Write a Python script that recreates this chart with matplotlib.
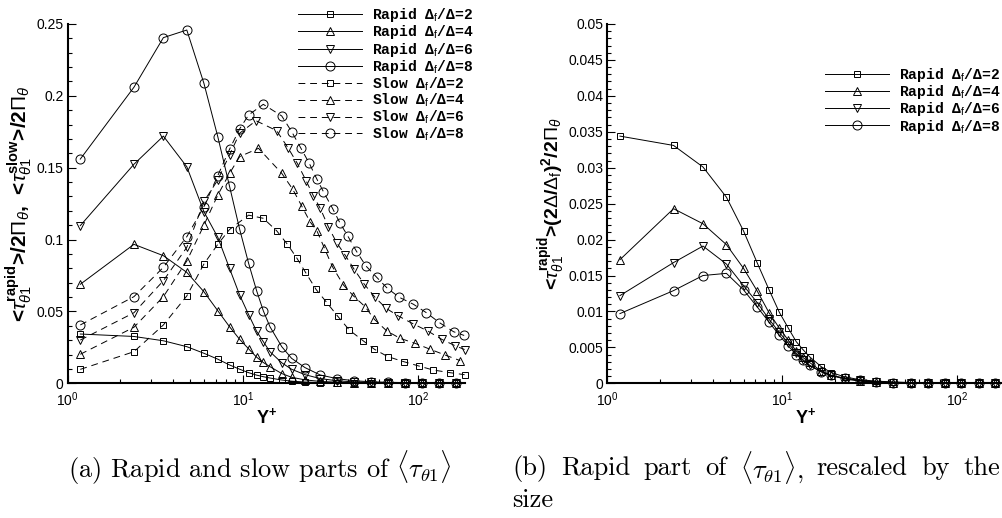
import matplotlib
matplotlib.use("Agg")
import matplotlib.pyplot as plt
from matplotlib.ticker import MultipleLocator, LogLocator, NullFormatter, FormatStrFormatter
from matplotlib.font_manager import FontProperties

plt.rcParams["font.family"] = ["Liberation Sans", "DejaVu Sans"]
plt.rcParams["mathtext.fontset"] = "custom"
plt.rcParams["mathtext.rm"] = "Liberation Sans"
plt.rcParams["mathtext.it"] = "Liberation Sans:italic"
plt.rcParams["mathtext.bf"] = "Liberation Sans:bold"

# ---- data ----
# rapid parts share one wall-normal grid
yplus_rapid = [1.18, 2.39, 3.52, 4.79, 6.0, 7.2, 8.4, 9.6, 10.8, 12.0, 13.1, 14.3,
               16.7, 19.0, 22.7, 27.7, 34.4, 43, 54, 68, 85, 105, 132, 165]

rapid_2 = [0.0343, 0.0326, 0.0296, 0.0255, 0.0209, 0.0168, 0.0128, 0.0098, 0.0074, 0.0057,
           0.0046, 0.0037, 0.0023, 0.0015, 0.0009, 0.0005, 0.0003, 0.0002, 0.0001, 0.0001,
           0.0001, 0.0001, 0.0, 0.0]
rapid_4 = [0.0689, 0.0967, 0.0888, 0.0772, 0.0637, 0.0505, 0.0394, 0.0306, 0.024, 0.0182,
           0.0145, 0.0116, 0.0068, 0.0042, 0.0024, 0.0013, 0.0008, 0.0005, 0.0003, 0.0002,
           0.0002, 0.0001, 0.0001, 0.0001]
rapid_6 = [0.1097, 0.1524, 0.172, 0.1507, 0.1194, 0.1016, 0.080, 0.0614, 0.0478, 0.0362,
           0.029, 0.022, 0.0143, 0.0098, 0.006, 0.0033, 0.0018, 0.001, 0.0006, 0.0004,
           0.0003, 0.0002, 0.0001, 0.0001]
rapid_8 = [0.156, 0.206, 0.2405, 0.2458, 0.2087, 0.1716, 0.1372, 0.1072, 0.0835, 0.0644,
           0.0505, 0.0394, 0.0255, 0.0174, 0.0109, 0.0058, 0.0033, 0.0018, 0.0011, 0.0007,
           0.0005, 0.0003, 0.0002, 0.0002]

# slow parts
yplus_slow_2 = [1.18, 2.39, 3.52, 4.79, 6.0, 7.2, 8.4, 10.8, 13.1, 15.6, 18, 20.4, 22.7,
                26.2, 30.1, 34.8, 40.6, 48.6, 56.5, 67.3, 82.9, 101, 122, 153, 185]
slow_2 = [0.0097, 0.022, 0.0406, 0.0608, 0.083, 0.0967, 0.107, 0.117, 0.1148, 0.1062,
          0.0967, 0.087, 0.0777, 0.0654, 0.0564, 0.0468, 0.0371, 0.0297, 0.0237, 0.0186,
          0.0151, 0.0121, 0.0093, 0.0074, 0.006]

yplus_slow_4 = [1.18, 2.39, 3.52, 4.79, 6.0, 7.2, 8.4, 9.6, 12.3, 16.7, 19.3, 21.7, 24.2,
                26.5, 29.3, 32.5, 37.6, 42.9, 50, 56.5, 66.5, 79.2, 96.6, 117.6, 143, 174.5]
slow_4 = [0.0202, 0.039, 0.0603, 0.0851, 0.110, 0.131, 0.146, 0.1577, 0.1635, 0.1461,
          0.135, 0.1234, 0.1125, 0.1062, 0.0939, 0.0812, 0.0684, 0.0608, 0.0533, 0.0445,
          0.0364, 0.0313, 0.0278, 0.0237, 0.0197, 0.0158]

yplus_slow_6 = [1.18, 2.39, 3.52, 4.79, 6.0, 7.2, 8.4, 9.6, 11.9, 15.6, 18.1, 20.5, 23,
                25.3, 27.7, 30.8, 34.4, 38.4, 43.3, 49.5, 57, 65.9, 77.5, 94.4, 114, 137,
                163, 185]
slow_6 = [0.0301, 0.0491, 0.0714, 0.0946, 0.1265, 0.1415, 0.1589, 0.174, 0.1827, 0.1758,
          0.164, 0.153, 0.141, 0.1305, 0.1218, 0.109, 0.0978, 0.0893, 0.0793, 0.0689,
          0.0598, 0.0522, 0.0468, 0.0413, 0.0364, 0.0306, 0.0262, 0.0235]

yplus_slow_8 = [1.18, 2.39, 3.52, 4.79, 6.0, 7.2, 8.4, 9.6, 10.8, 13.1, 16.7, 19.05, 21.5,
                24.0, 26.5, 28.9, 32.7, 36.0, 39.8, 44.4, 50.4, 58.3, 67, 78.5, 94.4, 112,
                133, 160, 184]
slow_8 = [0.0406, 0.0603, 0.0807, 0.102, 0.1229, 0.1445, 0.1628, 0.177, 0.1867, 0.1941,
          0.186, 0.175, 0.1635, 0.153, 0.1421, 0.1333, 0.1213, 0.1113, 0.1025, 0.0923,
          0.0818, 0.0737, 0.0661, 0.0598, 0.055, 0.0491, 0.0422, 0.0359, 0.0333]

# rapid parts rescaled by (2 Delta / Delta_f)^2
scaled_2 = [0.0344, 0.0331, 0.0301, 0.0259, 0.0212, 0.0167, 0.0130, 0.0099, 0.0077, 0.0058,
            0.0047, 0.0037, 0.0023, 0.0015, 0.0009, 0.0005, 0.0003, 0.0002, 0.0001, 0.0001,
            0.0001, 0.0001, 0.0, 0.0]
scaled_4 = [0.0172, 0.0243, 0.0222, 0.0193, 0.0160, 0.0128, 0.0098, 0.0077, 0.0060, 0.0045,
            0.0036, 0.0029, 0.0017, 0.0011, 0.0006, 0.0003, 0.0002, 0.0001, 0.0001, 0.0,
            0.0, 0.0, 0.0, 0.0]
scaled_6 = [0.0122, 0.0168, 0.0191, 0.0166, 0.0136, 0.0112, 0.0089, 0.0071, 0.0056, 0.0042,
            0.0033, 0.0025, 0.0016, 0.0011, 0.0007, 0.0004, 0.0002, 0.0001, 0.0001, 0.0,
            0.0, 0.0, 0.0, 0.0]
scaled_8 = [0.0097, 0.0129, 0.0150, 0.0153, 0.0130, 0.0106, 0.0085, 0.0067, 0.0052, 0.0040,
            0.0032, 0.0025, 0.0016, 0.0011, 0.0007, 0.0004, 0.0002, 0.0001, 0.0001, 0.0,
            0.0, 0.0, 0.0, 0.0]

ratios = ["2", "4", "6", "8"]
markers = ["s", "^", "v", "o"]
marker_sizes = [5, 6, 6, 6.5]

LINE_KW = dict(color="k", lw=0.7, mfc="none", mec="k", mew=0.7, clip_on=False)
DASH = (0, (7, 5))


def style_axes(ax, ymax, ymajor, yminor):
    ax.set_xscale("log")
    ax.set_xlim(1, 186)
    ax.set_ylim(0, ymax)
    for side in ("top", "right"):
        ax.spines[side].set_visible(False)
    for side in ("left", "bottom"):
        ax.spines[side].set_linewidth(1.5)
    ax.yaxis.set_major_locator(MultipleLocator(ymajor))
    ax.yaxis.set_minor_locator(MultipleLocator(yminor))
    ax.yaxis.set_major_formatter(FormatStrFormatter("%g"))
    ax.xaxis.set_major_locator(LogLocator(base=10))
    ax.xaxis.set_minor_locator(LogLocator(base=10, subs=range(2, 10)))
    ax.xaxis.set_minor_formatter(NullFormatter())
    ax.tick_params(which="both", direction="in", labelsize=10, width=0.8)
    ax.tick_params(which="major", length=6)
    ax.tick_params(which="minor", length=3)
    ax.tick_params(axis="x", which="major", pad=5)
    ax.tick_params(axis="y", which="major", pad=3)
    ax.set_xlabel(r"Y$^{\mathbf{+}}$", fontsize=13, fontweight="bold", labelpad=-1)


def legend_label(kind, ratio):
    return kind + r" Δ$_{\mathrm{f}}$/Δ=" + ratio


def justified_line(fig, words, x0, x1, y, **kw):
    """Place words so the line fills x0..x1 (figure pixels), like a justified line."""
    renderer = fig.canvas.get_renderer()
    texts = [fig.text(0, y, w, **kw) for w in words]
    widths = [t.get_window_extent(renderer).width for t in texts]
    gap = (x1 - x0 - sum(widths)) / (len(words) - 1)
    x = x0
    for t, w in zip(texts, widths):
        t.set_x(x / fig.bbox.width)
        x += w + gap


fig = plt.figure(figsize=(10.03, 5.18), dpi=100)
ax1 = fig.add_axes([0.0675, 0.26, 0.3961, 0.6937])
ax2 = fig.add_axes([0.6055, 0.26, 0.3961, 0.6937])

style_axes(ax1, 0.25, 0.05, 0.01)
style_axes(ax2, 0.05, 0.005, 0.001)

# panel (a)
rapid_all = [rapid_2, rapid_4, rapid_6, rapid_8]
slow_x = [yplus_slow_2, yplus_slow_4, yplus_slow_6, yplus_slow_8]
slow_all = [slow_2, slow_4, slow_6, slow_8]

for ratio, m, ms, vals in zip(ratios, markers, marker_sizes, rapid_all):
    ax1.plot(yplus_rapid, vals, marker=m, ms=ms, ls="-",
             label=legend_label("Rapid", ratio), **LINE_KW)
for ratio, m, ms, xs, vals in zip(ratios, markers, marker_sizes, slow_x, slow_all):
    ax1.plot(xs, vals, marker=m, ms=ms, ls=DASH,
             label=legend_label("Slow", ratio), **LINE_KW)

ax1.set_ylabel(r"<$\tau_{\theta 1}^{\mathbf{rapid}}$>/2$\Pi_{\theta}$,  "
               r"<$\tau_{\theta 1}^{\mathbf{slow}}$>/2$\Pi_{\theta}$",
               fontsize=15, fontweight="bold", labelpad=1)

# panel (b)
scaled_all = [scaled_2, scaled_4, scaled_6, scaled_8]
for ratio, m, ms, vals in zip(ratios, markers, marker_sizes, scaled_all):
    ax2.plot(yplus_rapid, vals, marker=m, ms=ms, ls="-",
             label=legend_label("Rapid", ratio), **LINE_KW)

ax2.set_ylabel(r"<$\tau_{\theta 1}^{\mathbf{rapid}}$>(2$\Delta$/$\Delta_{\mathrm{f}}$)$^{\mathbf{2}}$/2$\Pi_{\theta}$",
               fontsize=14, fontweight="bold", labelpad=0)

legend_font = FontProperties(family="Liberation Mono", weight="bold", size=10.5)
leg_kw = dict(loc="upper left", bbox_transform=fig.transFigure, frameon=False,
              prop=legend_font, handlelength=4.4, handletextpad=0.7,
              labelspacing=-0.05, borderpad=0, borderaxespad=0)
leg1 = ax1.legend(bbox_to_anchor=(0.2968, 0.988), **leg_kw)
leg2 = ax2.legend(bbox_to_anchor=(0.8225, 0.873), **leg_kw)

# captions
cap_kw = dict(fontfamily="cmr10", fontsize=19, math_fontfamily="cm", va="center")
fig.text(0.068, 1 - 468 / 518,
         r"(a) Rapid and slow parts of $\langle\tau_{\theta 1}\rangle$", **cap_kw)
justified_line(fig, ["(b)", "Rapid", "part", "of", r"$\langle\tau_{\theta 1}\rangle$,",
                     "rescaled", "by", "the"],
               512, 1000, 1 - 468 / 518, **cap_kw)
fig.text(512 / 1003, 1 - 500 / 518, "size", **cap_kw)

fig.savefig("out.png", dpi=100)
